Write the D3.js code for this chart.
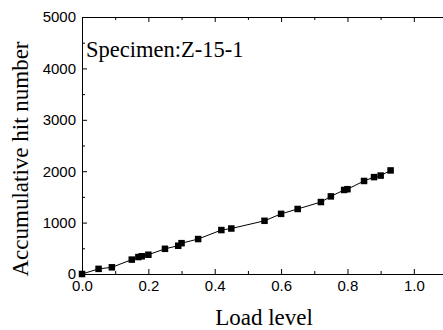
<!DOCTYPE html>
<html>
<head>
<meta charset="utf-8">
<script src="https://cdn.jsdelivr.net/npm/d3@7"></script>
<style>
body{margin:0;background:#fff;}
svg{display:block;}
.serif{font-family:"Liberation Serif","Times New Roman",serif;}
.sans text{font-family:"Liberation Sans",Arial,sans-serif;}
</style>
</head>
<body>
<svg width="443" height="330"></svg>
<script>
// values
var loadLevel = [0, 0.05, 0.09, 0.15, 0.17, 0.18, 0.2, 0.25, 0.29, 0.30, 0.35, 0.42, 0.45,
	0.55, 0.60, 0.65, 0.72, 0.75, 0.79, 0.80, 0.85, 0.88, 0.90, 0.93];
var hitNumber = [0, 100, 130, 280, 330, 345, 375, 490, 550, 600, 680, 855, 885,
	1035, 1170, 1265, 1400, 1510, 1635, 1650, 1810, 1885, 1915, 2015];
var xTicks = [0, 0.2, 0.4, 0.6, 0.8, 1.0];
var yTicks = [0, 1000, 2000, 3000, 4000, 5000];
var specimen = 'Specimen:Z-15-1';

var svg = d3.select('svg');
var pLeft = 82, pRight = 447, pTop = 17, pBottom = 274;

var xscale = d3.scaleLinear().domain([0, 1.1]).range([pLeft, pRight]);
var yscale = d3.scaleLinear().domain([0, 5000]).range([pBottom, pTop]);

var data = loadLevel.map((d, i) => ({x: d, y: hitNumber[i]}));

var tickFont = g => {
	g.attr('class', 'sans');
	g.selectAll('text').attr('font-size', 15).attr('fill', '#000');
	g.selectAll('line').attr('stroke', '#000');
	g.select('.domain').attr('stroke', '#000');
};

// minor ticks
var xminor = [0.1, 0.3, 0.5, 0.7, 0.9];
var yminor = [500, 1500, 2500, 3500, 4500];

svg.append('g').attr('transform', `translate(0,${pBottom})`)
	.call(d3.axisBottom(xscale).tickValues(xminor).tickSize(-3).tickFormat('').tickSizeOuter(0))
	.call(tickFont);
svg.append('g').attr('transform', `translate(0,${pTop})`)
	.call(d3.axisTop(xscale).tickValues(xminor).tickSize(-3).tickFormat('').tickSizeOuter(0))
	.call(tickFont);
svg.append('g').attr('transform', `translate(${pLeft},0)`)
	.call(d3.axisLeft(yscale).tickValues(yminor).tickSize(-3).tickFormat('').tickSizeOuter(0))
	.call(tickFont);

// major axes
svg.append('g').attr('transform', `translate(0,${pTop})`)
	.call(d3.axisTop(xscale).tickValues(xTicks).tickSize(-5).tickFormat('').tickSizeOuter(0))
	.call(tickFont);
svg.append('g').attr('transform', `translate(0,${pBottom})`)
	.call(d3.axisBottom(xscale).tickValues(xTicks).tickSize(-5).tickPadding(6).tickSizeOuter(0).tickFormat(d3.format('.1f')))
	.call(tickFont);
svg.append('g').attr('transform', `translate(${pLeft},0)`)
	.call(d3.axisLeft(yscale).tickValues(yTicks).tickSize(-5).tickPadding(6).tickSizeOuter(0).tickFormat(d3.format('d')))
	.call(tickFont);

// series
var line = d3.line().x(d => xscale(d.x)).y(d => yscale(d.y));
svg.append('path').datum(data).attr('d', line)
	.attr('fill', 'none').attr('stroke', '#000').attr('stroke-width', 1);

var s = 6.5;
svg.append('g').selectAll('rect').data(data).enter().append('rect')
	.attr('x', d => xscale(d.x) - s / 2)
	.attr('y', d => yscale(d.y) - s / 2)
	.attr('width', s).attr('height', s)
	.attr('fill', '#000');

// texts
svg.append('text').attr('class', 'serif').attr('x', 86).attr('y', 57)
	.attr('font-size', 22.5)
	.text(specimen);

svg.append('text').attr('class', 'serif').attr('x', 264).attr('y', 325).attr('text-anchor', 'middle')
	.attr('font-size', 23)
	.text('Load level');

svg.append('text').attr('class', 'serif').attr('transform', 'translate(28,159) rotate(-90)').attr('text-anchor', 'middle')
	.attr('font-size', 23)
	.text('Accumulative hit number');
</script>
</body>
</html>
